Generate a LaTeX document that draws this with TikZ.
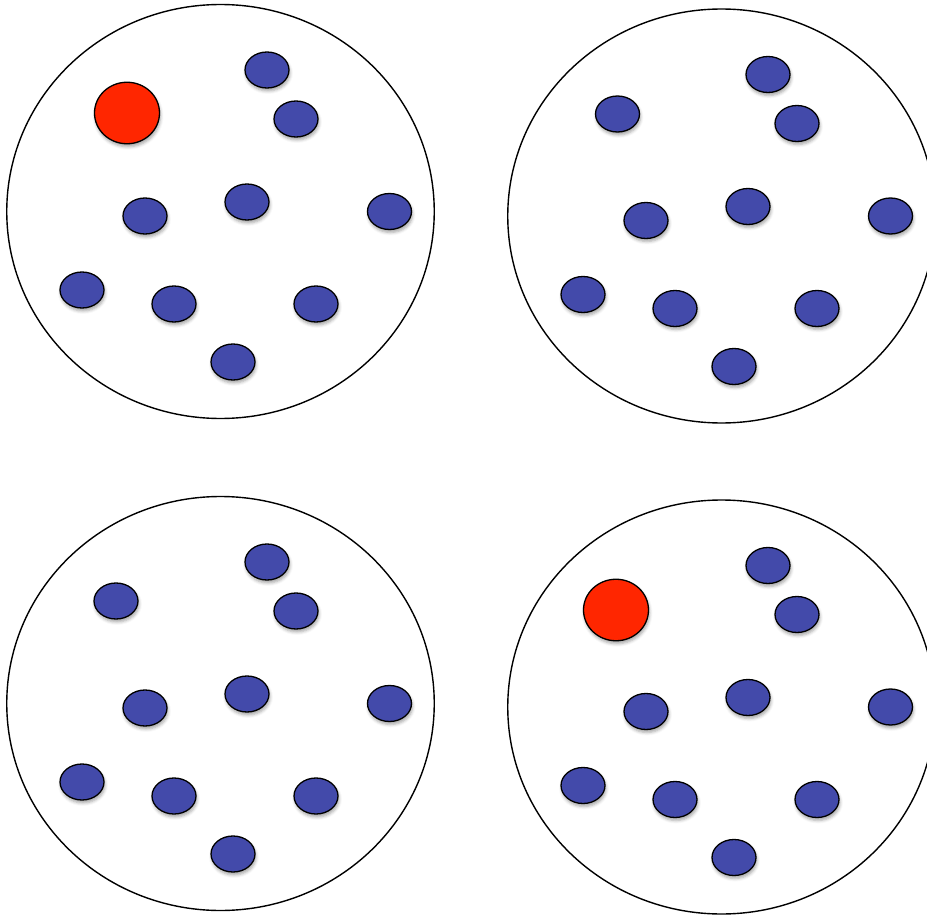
\documentclass[tikz,border=0pt]{standalone}
\usetikzlibrary{shapes.geometric,shadows.blur}
\definecolor{dotblue}{RGB}{67,74,170}
\definecolor{dotred}{RGB}{255,38,0}
\tikzset{
  jar/.style={draw, line width=1.4pt},
  bluedot/.style={ellipse, draw, line width=1.3pt, fill=dotblue, inner sep=0pt,
    minimum width=44pt, minimum height=36pt,
    blur shadow={shadow xshift=1pt, shadow yshift=-3pt, shadow blur radius=3pt, shadow opacity=35}},
  reddot/.style={bluedot, fill=dotred, minimum width=65pt, minimum height=61.5pt}
}
\begin{document}
\begin{tikzpicture}[x=1pt, y=-1pt, line join=round]
\useasboundingbox (0,0) rectangle (927,915);
% four jars with the same nine blue marbles
\foreach \cx/\cy/\jn in {220.5/211.5/a, 721.5/216/b, 220.5/703.5/c, 721.5/707/d}{
  \begin{scope}[shift={(\cx,\cy)}]
    \draw[jar] (0,0) ellipse [x radius=213.75, y radius=207];
    \foreach \dx/\dy [count=\i] in {46.5/-141.5, 75.5/-92.5, -75.5/4.5, 26.5/-9.5,
        169/0, -138.5/78.5, -46.5/92.5, 95.5/92.5, 12.5/150.5}
      \node[bluedot] (\jn-\i) at (\dx,\dy) {};
  \end{scope}
}
% the odd marble: red in jars a and d, blue in jars b and c
\node[reddot] (a-red) at (127,113) {};
\node[bluedot] (b-10) at (617.5,114) {};
\node[bluedot] (c-10) at (116,601) {};
\node[reddot] (d-red) at (616,610) {};
\end{tikzpicture}
\end{document}
